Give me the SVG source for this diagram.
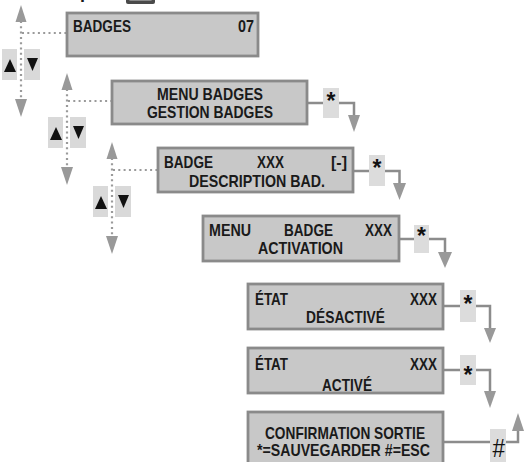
<svg xmlns="http://www.w3.org/2000/svg" width="526" height="462" viewBox="0 0 526 462">
<style>
.box{fill:#c8c8c8;stroke:#8a8a8a;stroke-width:2.8}
.t{font-family:"Liberation Sans",Arial,sans-serif;font-weight:bold;font-size:17px;fill:#1a1a1a}
.key{fill:#dcdcdc}
.conn{fill:none;stroke:#8c8c8c;stroke-width:2.5}
.ah{fill:#999}
.dot{fill:none;stroke:#9a9a9a;stroke-width:2.2;stroke-dasharray:2 3.3}
.btn{fill:#d9d9d9}
.tri{fill:#111}
.star{font-family:"Liberation Sans",Arial,sans-serif;font-weight:bold;font-size:23px;fill:#111;text-anchor:middle}
.hash{font-family:"Liberation Sans",Arial,sans-serif;font-size:25px;fill:#111}
</style>
<defs>
<g id="nav">
<line class="dot" x1="21" y1="21" x2="21" y2="100"/>
<line class="dot" x1="22" y1="33" x2="66" y2="33"/>
<polygon class="ah" points="15.5,22 26.5,22 21,5"/>
<polygon class="ah" points="15,99 27,99 21,117"/>
<rect class="btn" x="2" y="49" width="15" height="31"/>
<rect class="btn" x="24" y="49" width="16" height="31"/>
<polygon class="tri" points="4,72 16,72 10,59"/>
<polygon class="tri" points="27,58 38,58 32.5,71"/>
</g>
</defs>
<g id="top-partial">
<text x="80" y="-2" class="t" style="font-size:18px">p</text>
<rect x="126" y="-8" width="29" height="12" rx="2" fill="#4a4a4a"/>
<rect x="129" y="-8" width="23" height="9" rx="1.5" fill="#8a8a8a"/>
</g>
<g id="navigation">
<use href="#nav"/>
<use href="#nav" transform="translate(46,68)"/>
<use href="#nav" transform="translate(91,137)"/>
</g>
<g id="connectors">
<path class="conn" d="M307,103H323M339,103H354V116"/>
<rect class="key" x="323" y="88" width="16" height="30"/>
<text class="star" x="331" y="109">*</text>
<polygon class="ah" points="348,115 360,115 354,132"/>
<path class="conn" d="M353,171H369M385,171H399.5V184"/>
<rect class="key" x="369" y="155" width="16" height="31"/>
<text class="star" x="377" y="176">*</text>
<polygon class="ah" points="393,183 406,183 399.5,200"/>
<path class="conn" d="M399,239H414M429,239H445V253"/>
<rect class="key" x="414" y="225" width="15" height="28"/>
<text class="star" x="421.5" y="244">*</text>
<polygon class="ah" points="438,252 452,252 445,268"/>
<path class="conn" d="M443,306H460M476,306H490V329"/>
<rect class="key" x="460" y="290" width="16" height="32"/>
<text class="star" x="468" y="312">*</text>
<polygon class="ah" points="484,328 496,328 490,343"/>
<path class="conn" d="M443,370H460M476,370H490V392"/>
<rect class="key" x="460" y="355" width="16" height="30"/>
<text class="star" x="468" y="383">*</text>
<polygon class="ah" points="484,391 496,391 490,408"/>
<path class="conn" d="M443,442H490M506,442H518V430"/>
<rect class="key" x="490" y="429" width="16" height="34"/>
<text class="hash" x="492.5" y="457" textLength="12.5" lengthAdjust="spacingAndGlyphs">#</text>
<polygon class="ah" points="512,431 524,431 518,413"/>
</g>
<g id="n1">
<rect class="box" x="67" y="13" width="191" height="43"/>
<text class="t" x="73" y="31.5" textLength="58" lengthAdjust="spacingAndGlyphs">BADGES</text>
<text class="t" x="238" y="31.5" textLength="16" lengthAdjust="spacingAndGlyphs">07</text>
</g>
<g id="n2">
<rect class="box" x="112" y="81" width="195" height="43"/>
<text class="t" x="157" y="100" textLength="106" lengthAdjust="spacingAndGlyphs">MENU BADGES</text>
<text class="t" x="147" y="118" textLength="126" lengthAdjust="spacingAndGlyphs">GESTION BADGES</text>
</g>
<g id="n3">
<rect class="box" x="158" y="148" width="195" height="44"/>
<text class="t" x="164" y="168" textLength="49" lengthAdjust="spacingAndGlyphs">BADGE</text>
<text class="t" x="257" y="168" textLength="27" lengthAdjust="spacingAndGlyphs">XXX</text>
<text class="t" x="331" y="168" textLength="16" lengthAdjust="spacingAndGlyphs">[-]</text>
<text class="t" x="189" y="186.5" textLength="136" lengthAdjust="spacingAndGlyphs">DESCRIPTION BAD.</text>
</g>
<g id="n4">
<rect class="box" x="203" y="216" width="196" height="45"/>
<text class="t" x="209" y="236" textLength="42" lengthAdjust="spacingAndGlyphs">MENU</text>
<text class="t" x="284" y="236" textLength="49" lengthAdjust="spacingAndGlyphs">BADGE</text>
<text class="t" x="365" y="236" textLength="27" lengthAdjust="spacingAndGlyphs">XXX</text>
<text class="t" x="258" y="254" textLength="85" lengthAdjust="spacingAndGlyphs">ACTIVATION</text>
</g>
<g id="n5">
<rect class="box" x="248" y="284" width="195" height="45"/>
<text class="t" x="255" y="305" textLength="33" lengthAdjust="spacingAndGlyphs">ÉTAT</text>
<text class="t" x="410" y="305" textLength="27" lengthAdjust="spacingAndGlyphs">XXX</text>
<text class="t" x="306" y="323" textLength="79" lengthAdjust="spacingAndGlyphs">DÉSACTIVÉ</text>
</g>
<g id="n6">
<rect class="box" x="248" y="348" width="195" height="45"/>
<text class="t" x="255" y="370" textLength="33" lengthAdjust="spacingAndGlyphs">ÉTAT</text>
<text class="t" x="410" y="370" textLength="27" lengthAdjust="spacingAndGlyphs">XXX</text>
<text class="t" x="322" y="390.5" textLength="50" lengthAdjust="spacingAndGlyphs">ACTIVÉ</text>
</g>
<g id="n7">
<rect class="box" x="248" y="412" width="195" height="53"/>
<text class="t" x="265" y="439" textLength="160" lengthAdjust="spacingAndGlyphs">CONFIRMATION SORTIE</text>
<text class="t" x="257" y="455.5" textLength="173" lengthAdjust="spacingAndGlyphs">*=SAUVEGARDER #=ESC</text>
</g>
</svg>
